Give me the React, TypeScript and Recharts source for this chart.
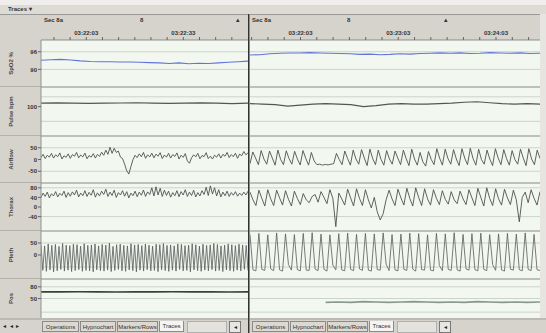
import React from 'react';
import { LineChart, Line, XAxis, YAxis, CartesianGrid } from 'recharts';

const FONT = '"Liberation Sans", Arial, sans-serif';

// ---------- labels / categories ----------
const channelNames = ['SpO2 %', 'Pulse bpm', 'Airflow', 'Thorax', 'Pleth', 'Pos'];
const channelDomains: [number, number][] = [[84, 100], [40, 140], [-100, 100], [-100, 100], [-100, 100], [0, 100]];
const channelTicks = [[96, 90], [100], [50, 0, -50], [80, 40, 0, -40], [50, 0], [80, 50]];
const channelGrid = [[96, 90], [120, 70], [50, -50], [80, -40], [50, -50], [80, 50, 15]];
const channelColors = ['#6373dc', '#555555', '#505050', '#505050', '#5a5a5a', '#34423a'];
const channelWidths = [1.1, 1.1, 0.9, 0.9, 0.8, 1.6];

const leftDuration = 64;
const rightDuration = 178;
const leftTickSeconds = [4, 9, 14, 19, 24, 29, 34, 39, 44, 49, 54, 59];
const leftLabelSeconds = [14, 44];
const leftLabelTexts = ['03:22:03', '03:22:33'];
const rightTickSeconds = [1, 11, 21, 31, 41, 51, 61, 71, 81, 91, 101, 111, 121, 131, 141, 151, 161, 171];
const rightLabelSeconds = [31, 91, 151];
const rightLabelTexts = ['03:22:03', '03:23:03', '03:24:03'];

const tabNames = ['Operations', 'Hypnochart', 'Markers/Rows', 'Traces'];

// ---------- series values ----------
const leftSpO2 = [93.1, 93.3, 93.4, 93.2, 92.9, 92.7, 92.6, 92.6, 92.5, 92.5, 92.4, 92.3, 92.2, 92.0, 92.2, 91.9, 92.1, 92.0, 92.2, 92.4, 92.6, 92.8];
const rightSpO2 = [94.9, 95.0, 95.3, 95.5, 95.6, 95.6, 95.7, 95.6, 95.5, 95.4, 95.3, 95.1, 95.2, 95.0, 95.1, 95.3, 95.2, 95.4, 95.5, 95.6, 95.5, 95.6, 95.4, 95.5, 95.7, 95.6, 95.5, 95.6, 95.4, 95.5];

const leftPulse = [107, 107.5, 107, 106.5, 107, 107.5, 108, 107, 106.5, 107, 107.5, 107, 106, 107];
const rightPulse = [106, 105, 104, 101, 103, 105, 106, 105, 104, 100, 102, 105, 106, 105, 105, 106, 107, 109, 110, 108, 106, 105, 106, 105];

const leftAirflow = [
  8, 22, 4, 18, 10, 26, 6, 20, 12, 28,
  2, 16, 9, 24, 5, 21, 14, 30, 7, 19,
  11, 27, 3, 17, 10, 25, 6, 22, 13, 31,
  18, 40, 22, 52, 26, 48, 30, 36, 10, 4,
  -20, -48, -62, -30, 0, 18, 8, 24, 12, 30,
  5, 20, 11, 27, 7, 23, 14, 29, 4, 19,
  10, 26, 6, 21, 13, 28, 2, 18, 9, 25,
  -6, -16, 7, 20, 11, 26, 3, 17, 12, 29,
  4, 14, 2, 18, 10, 24, 6, 22, 14, 30,
  8, 21, 12, 27, 5, 23, 16, 34, 20, 28,
];
const rightAirflow = [
  -18, 32, 6, -22, 38, 2, -20, 36, 6, -24, 40, 0, -22, 37, 4, -20, 35, 2, -23, 38, 5, -24, 30, -6,
  -22, -20, -24, -21, -23, -20,
  -18, 26, 0, -22, 36, 4, -24, 40, 2, -20, 42, 6, -26, 44, 4, -22, 40, 0, -24, 38, 2, -20, 36, 6,
  -22, 40, 4, -26, 44, 2, -24, 30, -10, -28, 34, 0, -22, 46, 6, -24, 44, 4, -20, 42, 2, -26, 46, 6,
  -22, 48, 4, -24, 44, 0, -20, 40, 2, -26, 46, 6, -22, 42, 4, -24, 38, 0, -20, 44, 6, -26, 46, 2,
  -22, 40, 4,
];

const leftThorax = [
  40, 58, 44, 62, 38, 55, 46, 64, 42, 57,
  48, 66, 40, 60, 45, 63, 50, 70, 42, 58,
  47, 68, 44, 61, 49, 72, 41, 59, 46, 66,
  52, 74, 44, 62, 48, 70, 40, 60, 50, 68,
  45, 64, 38, 58, 47, 66, 43, 62, 49, 71,
  44, 63, 52, 80, 46, 84, 50, 78, 44, 70,
  48, 66, 41, 60, 47, 68, 43, 64, 50, 72,
  44, 62, 48, 70, 42, 60, 46, 68, 52, 82,
  48, 88, 54, 80, 46, 72, 42, 62, 47, 66,
  44, 60, 49, 64, 45, 58, 48, 62, 50, 66,
];
const rightThorax = [
  62, 30, 6, 70, 36, 4, 72, 34, 6, 70, 38, 8, 68, 32, 4, 66, 36, 10, 56, 30, 18, 44, 52, 20,
  64, 40, 14, 72, 36, -82, 58, 34, 8, 74, 38, 4, 76, 36, 6, 72, 30, -4, 40, -20, -54, -28, 30,
  70, 34, 6, 74, 38, 8, 78, 36, 4, 80, 40, 6, 76, 34, 8, 72, 36, 10, 68, 32, 12, 64, 30, 14,
  66, 34, 10, 72, 38, 6, 78, 40, 4, 80, 36, 6, 76, 34, 8, 74, 38, 10, 70, 30, -62, 40, 62, 18,
  72, 36, 8, 64,
];

const leftPleth = [
  42, -64, 38, -68, 46, -62, 40, -70, 44, -66, 36, -60, 48, -67, 41, -63, 39, -69, 45, -65,
  43, -61, 37, -68, 47, -64, 40, -66, 42, -70, 46, -62, 38, -65, 44, -67, 41, -63, 49, -69,
  36, -64, 43, -60, 45, -66, 40, -68, 38, -62, 47, -65, 42, -70, 44, -63, 39, -67, 46, -61,
  41, -66, 37, -64, 45, -69, 43, -62, 48, -65, 40, -68, 42, -63, 38, -67, 46, -60, 44, -66,
  39, -64, 41, -70, 47, -62, 43, -65, 37, -68, 45, -63, 40, -66, 42, -61, 48, -67, 44, -64,
  38, -69, 41, -62, 46, -65, 43, -68, 39, -63, 45, -66, 42, -60, 40, -64,
];
const rightPleth = [
  86, -62, -66, 90, -60, -64, 84, -58, -65, 92, -62, -67, 88, -40, -63, 85, -61, -66, 90, -63, -64,
  93, -59, -65, 87, -60, -67, 84, -42, -62, 89, -62, -66, 91, -60, -65, 86, -58, -64, 90, -63, -67,
  88, -61, -63, 92, -38, -65, 85, -62, -66, 87, -60, -64, 91, -59, -67, 89, -61, -63, 84, -63, -66,
  90, -44, -65, 88, -60, -64, 93, -62, -67, 86, -58, -63, 89, -61, -66, 91, -60, -65, 85, -40, -64,
  88, -62, -67, 90, -59, -63, 87, -61, -66, 92, -60, -65, 86, -62, -64,
];

const leftPos = [67, 67, 67.5, 67, 66.5, 67, 67, 67.5, 67, 67, 66.5, 67];
const rightPos: (number | null)[] = [null, null, null, null, null, null, 40, 41, 40, 42, 41, 40, 41, 42, 41, 40, 41, 40, 42, 41, 40, 41, 40, 41];

const leftSeries = [leftSpO2, leftPulse, leftAirflow, leftThorax, leftPleth, leftPos];
const rightSeries = [rightSpO2, rightPulse, rightAirflow, rightThorax, rightPleth, rightPos];

// ---------- layout ----------
const ROW_TOPS = [40, 87, 136, 183, 231, 279];
const ROW_HEIGHTS = [47, 49, 47, 48, 48, 39];
const HEADER_H = 28;

const toRows = (vals: (number | null)[], dur: number) =>
  vals.map((v, i) => ({ t: (i * dur) / (vals.length - 1), v }));

function TraceRow({ side, idx }: { side: 'left' | 'right'; idx: number }) {
  const isLeft = side === 'left';
  const dur = isLeft ? leftDuration : rightDuration;
  const data = toRows((isLeft ? leftSeries : rightSeries)[idx], dur);
  const first = idx === 0;
  const h = ROW_HEIGHTS[idx] + (first ? HEADER_H : 0);
  const top = ROW_TOPS[idx] - (first ? HEADER_H : 0);
  const width = isLeft ? 248 : 290;
  const tickSec = isLeft ? leftTickSeconds : rightTickSeconds;
  const labSec = isLeft ? leftLabelSeconds : rightLabelSeconds;
  const labTxt = isLeft ? leftLabelTexts : rightLabelTexts;
  const color = !isLeft && idx === 5 ? '#8a988f' : channelColors[idx];
  return (
    <div style={{ position: 'absolute', left: isLeft ? 0 : 250, top, width, height: h }}>
      <LineChart width={width} height={h} data={data} margin={{ top: 0, right: 0, bottom: 0, left: 0 }}>
        <CartesianGrid horizontal vertical={false} horizontalValues={channelGrid[idx]} stroke="#cdd3ca" />
        <XAxis
          type="number"
          dataKey="t"
          domain={[0, dur]}
          allowDataOverflow
          hide={!first}
          orientation="top"
          height={HEADER_H}
          ticks={tickSec}
          interval={0}
          tickSize={3}
          tickMargin={2}
          tickFormatter={(v: number) => {
            const k = labSec.indexOf(v);
            return k >= 0 ? labTxt[k] : '';
          }}
          axisLine={{ stroke: '#8c8c8c' }}
          tickLine={{ stroke: '#666' }}
          tick={{ fontSize: 6, fill: '#333', fontWeight: 700 }}
        />
        <YAxis
          type="number"
          domain={channelDomains[idx]}
          allowDataOverflow
          hide={!isLeft}
          width={41}
          ticks={channelTicks[idx]}
          interval={0}
          tickSize={3}
          tickMargin={1}
          axisLine={{ stroke: '#8a948b' }}
          tickLine={{ stroke: '#666' }}
          tick={{ fontSize: 6, fill: '#333', fontWeight: 700 }}
          label={{
            value: channelNames[idx],
            angle: -90,
            position: 'insideLeft',
            offset: 11,
            style: { textAnchor: 'middle', fontSize: 6, fontWeight: 700, fill: '#444' },
          }}
        />
        <Line
          type="linear"
          dataKey="v"
          stroke={color}
          strokeWidth={channelWidths[idx]}
          dot={false}
          activeDot={false}
          connectNulls={false}
          isAnimationActive={false}
        />
      </LineChart>
    </div>
  );
}

function Tabs({ left }: { left: number }) {
  const widths = [38, 37, 42, 26];
  let x = left;
  return (
    <>
      {tabNames.map((n, i) => {
        const el = (
          <div
            key={n}
            style={{
              position: 'absolute',
              left: x,
              top: 321,
              width: widths[i] - 1,
              height: 11,
              border: '1px solid #8a8a8a',
              borderTop: i === 3 ? 'none' : '1px solid #8a8a8a',
              background: i === 3 ? '#f4f4f2' : '#dcd9d2',
              fontSize: 6,
              lineHeight: '11px',
              textAlign: 'center',
              color: '#333',
              boxSizing: 'border-box',
              overflow: 'hidden',
              whiteSpace: 'nowrap',
            }}
          >
            {n}
          </div>
        );
        x += widths[i];
        return el;
      })}
      <div style={{ position: 'absolute', left: x + 2, top: 321, width: 38, height: 10, background: '#e4e2dc', border: '1px solid #b0b0b0' }} />
      <div style={{ position: 'absolute', left: x + 44, top: 321, width: 10, height: 10, border: '1px solid #777', fontSize: 6, lineHeight: '10px', textAlign: 'center', color: '#222', background: '#e8e6e0' }}>◂</div>
    </>
  );
}

export default function App() {
  const rows = [0, 1, 2, 3, 4, 5];
  const seps = [87, 136, 183, 231, 279];
  return (
    <div
      style={{
        position: 'fixed',
        left: 0,
        top: 0,
        width: 546,
        height: 333,
        overflow: 'hidden',
        background: '#d6d3cd',
        fontFamily: FONT,
      }}
    >
      {/* top strip */}
      <div style={{ position: 'absolute', left: 0, top: 0, width: 546, height: 5, background: '#efeeec' }} />
      <div style={{ position: 'absolute', left: 0, top: 5, width: 546, height: 9, background: '#dedbd5', borderBottom: '1px solid #9a9a9a' }} />
      <div style={{ position: 'absolute', left: 8, top: 5, fontSize: 6, fontWeight: 700, color: '#333', lineHeight: '9px' }}>Traces ▾</div>

      {/* header texts */}
      <div style={{ position: 'absolute', left: 44, top: 17, fontSize: 6, fontWeight: 700, color: '#333' }}>Sec 8a</div>
      <div style={{ position: 'absolute', left: 140, top: 17, fontSize: 6, fontWeight: 700, color: '#333' }}>8</div>
      <div style={{ position: 'absolute', left: 236, top: 16, fontSize: 7, color: '#333' }}>▴</div>
      <div style={{ position: 'absolute', left: 252, top: 17, fontSize: 6, fontWeight: 700, color: '#333' }}>Sec 8a</div>
      <div style={{ position: 'absolute', left: 347, top: 17, fontSize: 6, fontWeight: 700, color: '#333' }}>8</div>
      <div style={{ position: 'absolute', left: 444, top: 16, fontSize: 7, color: '#333' }}>▴</div>

      {/* plot backgrounds */}
      <div style={{ position: 'absolute', left: 41, top: 40, width: 207, height: 278, background: '#f2f8f0' }} />
      <div style={{ position: 'absolute', left: 250, top: 40, width: 290, height: 278, background: '#f2f8f0' }} />
      <div style={{ position: 'absolute', left: 540, top: 14, width: 6, height: 306, background: '#e6e5e2' }} />

      {/* row separators */}
      {seps.map((y) => (
        <div key={y} style={{ position: 'absolute', left: 41, top: y - 1, width: 499, height: 2, background: '#bcc1ba' }} />
      ))}
      {seps.map((y) => (
        <div key={'l' + y} style={{ position: 'absolute', left: 0, top: y - 1, width: 41, height: 1, background: '#b5b2ab' }} />
      ))}
      <div style={{ position: 'absolute', left: 0, top: 318, width: 546, height: 2, background: '#bdbab4' }} />

      {rows.map((i) => (
        <TraceRow key={'L' + i} side="left" idx={i} />
      ))}
      {rows.map((i) => (
        <TraceRow key={'R' + i} side="right" idx={i} />
      ))}

      {/* panel divider */}
      <div style={{ position: 'absolute', left: 248, top: 14, width: 1, height: 319, background: '#333' }} />
      <div style={{ position: 'absolute', left: 249, top: 14, width: 1, height: 319, background: '#8a8a8a' }} />

      {/* bottom tabs */}
      <div style={{ position: 'absolute', left: 3, top: 321, fontSize: 6, color: '#222', lineHeight: '11px', letterSpacing: 1 }}>◂ ◂ ▸</div>
      <Tabs left={42} />
      <Tabs left={252} />
    </div>
  );
}
